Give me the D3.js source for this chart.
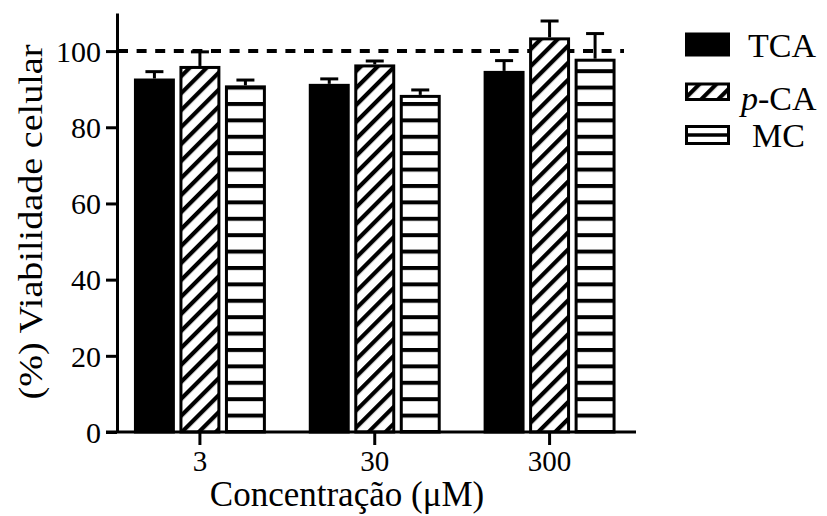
<!DOCTYPE html>
<html>
<head>
<meta charset="utf-8">
<script src="https://cdn.jsdelivr.net/npm/d3@7"></script>
<style>
  html, body { margin: 0; padding: 0; background: #fff; }
  svg { display: block; }
  svg text { font-family: "Liberation Serif", "Times New Roman", Times, "DejaVu Serif", serif !important; fill: #000; }
</style>
</head>
<body>
<script>
const categories = ["3", "30", "300"];
const seriesNames = ["TCA", "p-CA", "MC"];
const tcaValues = [92.8, 91.4, 94.8];
const tcaErrors = [1.8, 1.3, 2.7];
const pcaValues = [96.1, 96.5, 103.6];
const pcaErrors = [3.7, 0.9, 4.3];
const mcValues = [91.0, 88.5, 98.0];
const mcErrors = [1.4, 1.3, 6.6];
const yTicks = [0, 20, 40, 60, 80, 100];
const referenceLine = 100;

const W = 827, H = 516;
const svg = d3.select("body").append("svg").attr("width", W).attr("height", H);

const defs = svg.append("defs");
const diag = defs.append("pattern").attr("id", "diag")
  .attr("patternUnits", "userSpaceOnUse").attr("width", 12).attr("height", 12)
  .attr("patternTransform", "rotate(-45)");
diag.append("rect").attr("width", 12).attr("height", 12).attr("fill", "#fff");
diag.append("rect").attr("y", 0).attr("width", 12).attr("height", 4.2).attr("fill", "#000");

const horiz = defs.append("pattern").attr("id", "horiz")
  .attr("patternUnits", "userSpaceOnUse").attr("width", 20).attr("height", 16.4)
  .attr("y", 430);
horiz.append("rect").attr("width", 20).attr("height", 16.4).attr("fill", "#fff");
horiz.append("rect").attr("y", 0).attr("width", 20).attr("height", 4).attr("fill", "#000");

const fills = { "TCA": "#000", "p-CA": "url(#diag)", "MC": "url(#horiz)" };

const data = categories.map((c, i) => ({
  cat: c,
  bars: [
    { s: "TCA", v: tcaValues[i], e: tcaErrors[i] },
    { s: "p-CA", v: pcaValues[i], e: pcaErrors[i] },
    { s: "MC", v: mcValues[i], e: mcErrors[i] }
  ]
}));

const y = d3.scaleLinear().domain([0, 110]).range([432, 13]);
const x = d3.scaleBand().domain(categories).range([112.5, 637]);
const xi = d3.scaleBand().domain(seriesNames).range([-68.25, 68.25]).paddingInner(0.1).paddingOuter(0.05);

const xCenter = c => x(c) + x.bandwidth() / 2;
const bw = xi.bandwidth();

// reference dashed line
svg.append("line")
  .attr("x1", 118).attr("x2", 624)
  .attr("y1", y(referenceLine)).attr("y2", y(referenceLine))
  .attr("stroke", "#000").attr("stroke-width", 4)
  .attr("stroke-dasharray", "10,8.6");

const groups = svg.selectAll("g.grp").data(data).join("g").attr("class", "grp");

// error bars
groups.selectAll("g.err").data(d => d.bars.map(b => ({ ...b, cat: d.cat }))).join("g")
  .attr("class", "err")
  .each(function(d) {
    const g = d3.select(this);
    const cx = xCenter(d.cat) + xi(d.s) + bw / 2;
    g.append("line").attr("x1", cx).attr("x2", cx)
      .attr("y1", y(d.v)).attr("y2", y(d.v + d.e))
      .attr("stroke", "#000").attr("stroke-width", 3);
    g.append("line").attr("x1", cx - 9).attr("x2", cx + 9)
      .attr("y1", y(d.v + d.e)).attr("y2", y(d.v + d.e))
      .attr("stroke", "#000").attr("stroke-width", 3);
  });

// bars
groups.selectAll("rect.bar").data(d => d.bars.map(b => ({ ...b, cat: d.cat }))).join("rect")
  .attr("class", "bar")
  .attr("x", d => xCenter(d.cat) + xi(d.s) + 1.5)
  .attr("width", bw - 3)
  .attr("y", d => y(d.v) + 1.5)
  .attr("height", d => y(0) - y(d.v) - 1.5)
  .attr("fill", d => fills[d.s])
  .attr("stroke", "#000").attr("stroke-width", 3);

// Y axis
const yAxis = svg.append("g").attr("transform", "translate(117,0)")
  .call(d3.axisLeft(y).tickValues(yTicks).tickSize(11).tickPadding(5).tickSizeOuter(0))
  .attr("font-family", null);
yAxis.select(".domain").attr("stroke-width", 3);
yAxis.selectAll(".tick line").attr("stroke-width", 3);
yAxis.selectAll(".tick text").attr("font-size", 30).attr("dy", "0.34em");

// X axis
const xAxis = svg.append("g").attr("transform", "translate(0,432)")
  .call(d3.axisBottom(x).tickSize(13).tickPadding(5).tickSizeOuter(0))
  .attr("font-family", null);
xAxis.select(".domain").attr("d", "M106,0H636").attr("stroke-width", 3);
xAxis.selectAll(".tick line").attr("stroke-width", 3);
xAxis.selectAll(".tick text").attr("font-size", 29).attr("dy", "0.74em");

// Axis titles
svg.append("text").attr("x", 347).attr("y", 506).attr("text-anchor", "middle")
  .attr("font-size", 35).text("Concentração (μM)");

svg.append("text").attr("transform", "translate(42,222) rotate(-90)")
  .attr("text-anchor", "middle").attr("font-size", 34)
  .attr("textLength", 355).attr("lengthAdjust", "spacingAndGlyphs")
  .text("(%) Viabilidade celular");

// Legend
const legendY = [32.5, 82.5, 125];
const legendH = [24, 18.5, 20];
const legendBase = [56.5, 109.5, 146.5];
const lg = svg.append("g");
seriesNames.forEach((s, i) => {
  if (s === "MC") {
    lg.append("rect").attr("x", 686.5).attr("y", legendY[i] + 1.5).attr("width", 42).attr("height", legendH[i] - 3)
      .attr("fill", "#fff").attr("stroke", "#000").attr("stroke-width", 3);
    lg.append("line").attr("x1", 686.5).attr("x2", 728.5)
      .attr("y1", legendY[i] + legendH[i] / 2).attr("y2", legendY[i] + legendH[i] / 2)
      .attr("stroke", "#000").attr("stroke-width", 3.5);
  } else {
    lg.append("rect").attr("x", 686.5).attr("y", legendY[i] + 1.5).attr("width", 42).attr("height", legendH[i] - 3)
      .attr("fill", fills[s]).attr("stroke", "#000").attr("stroke-width", 3);
  }
  const t = lg.append("text").attr("y", legendBase[i]).attr("font-size", 34);
  if (s === "p-CA") {
    t.attr("x", 741);
    t.append("tspan").attr("font-style", "italic").text("p");
    t.append("tspan").text("-CA");
  } else {
    t.attr("x", s === "TCA" ? 748 : 752).text(s);
  }
});
</script>
</body>
</html>
